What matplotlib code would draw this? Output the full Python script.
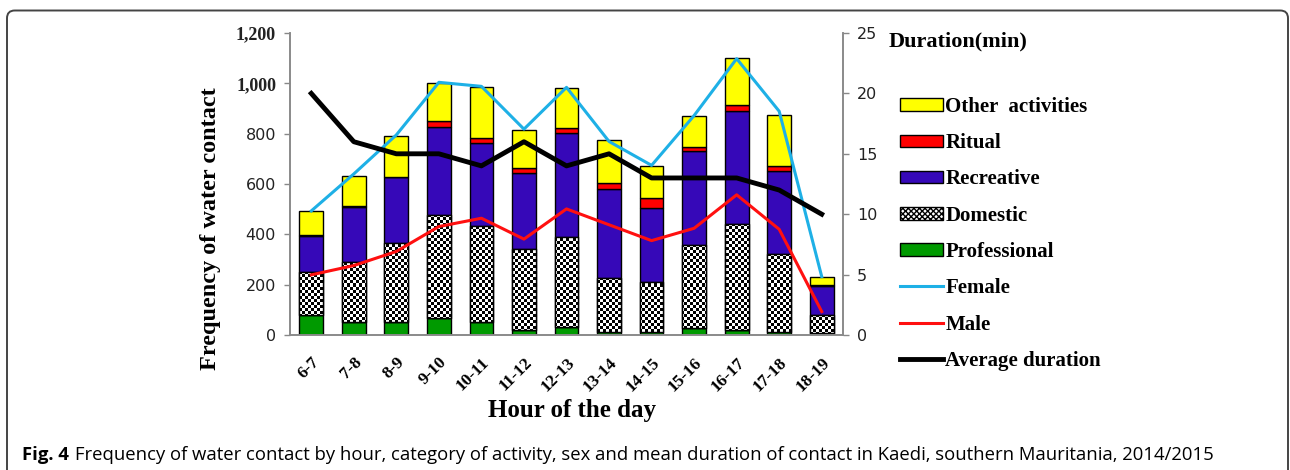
import numpy as np
import matplotlib
matplotlib.use("Agg")
import matplotlib.pyplot as plt
from matplotlib.patches import Patch, FancyBboxPatch
from matplotlib.lines import Line2D
from matplotlib.path import Path

hours = ["6-7", "7-8", "8-9", "9-10", "10-11", "11-12", "12-13", "13-14",
         "14-15", "15-16", "16-17", "17-18", "18-19"]
professional = [80, 53, 53, 66, 53, 20, 33, 13, 13, 27, 20, 13, 7]
domestic = [172, 236, 312, 409, 382, 322, 358, 215, 199, 331, 422, 308, 73]
recreative = [142, 219, 261, 351, 328, 301, 411, 352, 292, 374, 447, 329, 115]
ritual = [3, 3, 3, 23, 19, 20, 20, 23, 40, 17, 23, 20, 4]
other = [96, 122, 160, 151, 203, 153, 159, 173, 126, 120, 189, 205, 33]
female = [493, 640, 795, 1004, 988, 818, 984, 769, 674, 872, 1098, 889, 232]
male = [239, 276, 332, 431, 464, 381, 501, 438, 375, 424, 557, 420, 93]
avg_duration = [20, 16, 15, 15, 14, 16, 14, 15, 13, 13, 13, 12, 10]

left_ticks = [0, 200, 400, 600, 800, 1000, 1200]
left_labels = ["0", "200", "400", "600", "800", "1,000", "1,200"]
right_ticks = [0, 5, 10, 15, 20, 25]

SERIF = "Liberation Serif"
SANS = "DejaVu Sans"
C_YEL = "#FFFF00"
C_RED = "#FF0000"
C_REC = "#3608B8"
C_GRN = "#009A00"
C_FEM = "#1EB0E6"
C_MAL = "#FF1010"

fig = plt.figure(figsize=(12.9, 4.7), dpi=100)
W, H = 1290, 470
ax = fig.add_axes([290 / W, 1 - 335 / H, (843 - 290) / W, (335 - 33) / H])
ax2 = ax.twinx()

x = np.arange(len(hours))
bw = 0.56
prof = np.array(professional, float)
dom = np.array(domestic, float)
rec = np.array(recreative, float)
rit = np.array(ritual, float)
oth = np.array(other, float)

ek = dict(edgecolor="black", linewidth=1.0, width=bw, zorder=2)
ax.bar(x, prof, color=C_GRN, **ek)
dbars = ax.bar(x, dom, bottom=prof, color="white", **ek)
ax.bar(x, rec, bottom=prof + dom, color=C_REC, **ek)
ax.bar(x, rit, bottom=prof + dom + rec, color=C_RED, **ek)
ax.bar(x, oth, bottom=prof + dom + rec + rit, color=C_YEL, **ek)

ax.set_xlim(-0.5, len(hours) - 0.5)
ax.set_ylim(0, 1200)

# checker pattern for domestic
nx, ny = 184, 100
ii, jj = np.meshgrid(np.arange(nx), np.arange(ny))
checker = ((ii + jj) % 2).astype(float)
im = ax.imshow(checker, extent=(-0.5, len(hours) - 0.5, 0, 1200), aspect="auto",
               cmap="gray", interpolation="nearest", zorder=2.2, vmin=0, vmax=1)
paths = [b.get_patch_transform().transform_path(b.get_path()) for b in dbars]
comp = Path.make_compound_path(*paths)
im.set_clip_path(comp, ax.transData)
ax.bar(x, dom, bottom=prof, fill=False, edgecolor="black", linewidth=1.0, width=bw, zorder=2.4)
ax.set_xlim(-0.5, len(hours) - 0.5)
ax.set_ylim(0, 1200)

ax.plot(x, female, color=C_FEM, lw=2.2, zorder=5)
ax.plot(x, male, color=C_MAL, lw=2.2, zorder=5)
ax2.plot(x, avg_duration, color="black", lw=3.5, zorder=5, solid_joinstyle="round")
ax2.set_ylim(0, 25)
ax2.set_yticks(right_ticks)
ax2.set_yticklabels([str(t) for t in right_ticks], family=SANS, fontsize=11.5, color="#222")

ax.set_yticks(left_ticks)
ax.set_yticklabels(left_labels)
for lab, txt in zip(ax.get_yticklabels(), left_labels):
    if "," in txt:
        lab.set_fontfamily(SERIF)
        lab.set_fontweight("bold")
        lab.set_fontsize(13)
    else:
        lab.set_fontfamily(SANS)
        lab.set_fontsize(11.5)
    lab.set_color("#222")

ax.set_xticks(x)
ax.set_xticklabels(hours, rotation=45, ha="right", rotation_mode="anchor",
                   family=SERIF, fontweight="bold", fontsize=12.5)
ax.tick_params(axis="x", length=0, pad=14)
ax.tick_params(axis="y", length=4, color="#888", width=1, pad=6)
ax2.tick_params(axis="y", length=4, color="#888", width=1, pad=6)

for a in (ax, ax2):
    a.spines["top"].set_visible(False)
    for s in ("left", "right", "bottom"):
        a.spines[s].set_color("#8a8a8a")
        a.spines[s].set_linewidth(1.2)
ax.patch.set_visible(False)

fig.text(210 / W, 1 - 229 / H, "Frequency of water contact", rotation=90,
         ha="center", va="center", family=SERIF, fontweight="bold", fontsize=17.5)
fig.text(572 / W, 1 - 411 / H, "Hour of the day", ha="center", va="center",
         family=SERIF, fontweight="bold", fontsize=18)
fig.text(889 / W, 1 - 41 / H, "Duration(min)", ha="left", va="center",
         family=SERIF, fontweight="bold", fontsize=16)

handles = [
    Patch(facecolor=C_YEL, edgecolor="black", linewidth=1.0),
    Patch(facecolor=C_RED, edgecolor="black", linewidth=1.0),
    Patch(facecolor=C_REC, edgecolor="black", linewidth=1.0),
    Patch(facecolor="white", edgecolor="black", hatch="xxxxxx", linewidth=1.0),
    Patch(facecolor=C_GRN, edgecolor="black", linewidth=1.0),
    Line2D([], [], color=C_FEM, lw=2.2),
    Line2D([], [], color=C_MAL, lw=2.2),
    Line2D([], [], color="black", lw=3.5),
]
labels = ["Other  activities", "Ritual", "Recreative", "Domestic", "Professional",
          "Female", "Male", "Average duration"]
fig.legend(handles, labels, loc="upper left", bbox_to_anchor=(900 / W, 1 - 97 / H),
           frameon=False, prop=dict(family=SERIF, weight="bold", size=15),
           handlelength=2.05, handleheight=0.55, handletextpad=0.12, labelspacing=0.78,
           borderaxespad=0, borderpad=0)

# caption
t1 = fig.text(22 / W, 1 - 455 / H, "Fig. 4", family="Open Sans", fontweight="bold",
              fontsize=13.3, va="center", ha="left")
fig.canvas.draw()
r = fig.canvas.get_renderer()
bb = t1.get_window_extent(r)
fig.text((bb.x1 + 6) / W, 1 - 455 / H,
         "Frequency of water contact by hour, category of activity, sex and mean duration of contact in Kaedi, southern Mauritania, 2014/2015",
         family="Open Sans", fontsize=13.3, va="center", ha="left")

frame = FancyBboxPatch((7 / W, -0.2), (1288 - 7) / W, 0.2 + 1 - 10.5 / H,
                       boxstyle="round,pad=0,rounding_size=0.006",
                       transform=fig.transFigure, fill=False, edgecolor="#444",
                       linewidth=1.4, mutation_aspect=W / H)
fig.patches.append(frame)

fig.savefig("out.png", dpi=100)
